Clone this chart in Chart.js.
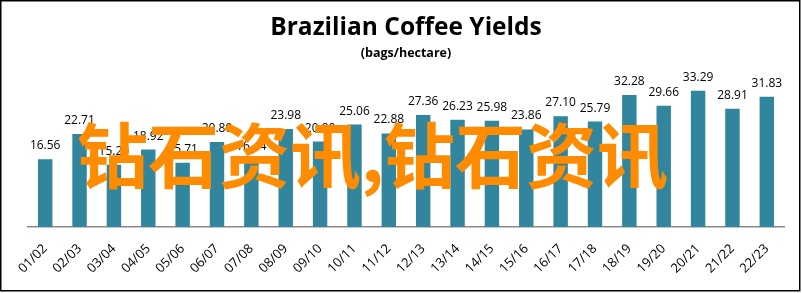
<!DOCTYPE html>
<html>
<head>
<meta charset="utf-8">
<script src="https://cdn.jsdelivr.net/npm/chart.js@4/dist/chart.umd.min.js"></script>
<style>
  html, body { margin: 0; padding: 0; background: #fff; }
  #wrap { width: 802px; height: 293px; }
</style>
</head>
<body>
<div id="wrap"><canvas id="chart" width="802" height="293"></canvas></div>
<script>
// ─── DATA ────────────────────────────────────────────────
const seasons = ['01/02', '02/03', '03/04', '04/05', '05/06', '06/07', '07/08', '08/09',
  '09/10', '10/11', '11/12', '12/13', '13/14', '14/15', '15/16', '16/17', '17/18',
  '18/19', '19/20', '20/21', '21/22', '22/23'];
const yields = [16.56, 22.71, 15.20, 18.92, 15.71, 20.80, 16.44, 23.98,
  20.90, 25.06, 22.88, 27.36, 26.23, 25.98, 23.86, 27.10, 25.79,
  32.28, 29.66, 33.29, 28.91, 31.83];
const titleText = 'Brazilian Coffee Yields';
const subtitleText = '(bags/hectare)';
const watermark = '钻石资讯,钻石资讯';

const BAR = '#31859C';
const LATIN = '"Open Sans", "Liberation Sans", sans-serif';

// ─── PLUGINS ─────────────────────────────────────────────
const valueLabels = {
  id: 'valueLabels',
  afterDatasetsDraw(chart) {
    const { ctx } = chart;
    const meta = chart.getDatasetMeta(0);
    ctx.save();
    ctx.font = '12px ' + LATIN;
    ctx.fillStyle = '#000';
    ctx.textAlign = 'center';
    ctx.textBaseline = 'alphabetic';
    meta.data.forEach((bar, i) => {
      ctx.fillText(yields[i].toFixed(2), bar.x, bar.y - 10);
    });
    ctx.restore();
  }
};

const overlay = {
  id: 'overlay',
  afterDraw(chart) {
    const { ctx } = chart;
    ctx.save();
    // watermark
    ctx.font = 'bold 71px "Noto Sans CJK SC", sans-serif';
    ctx.fillStyle = '#FF8C00';
    ctx.textAlign = 'left';
    ctx.textBaseline = 'middle';
    ctx.fillText(watermark, 77, 155);
    // frame
    ctx.strokeStyle = '#000';
    ctx.lineWidth = 1.5;
    ctx.strokeRect(0.75, 0.75, 799, 290);
    ctx.restore();
  }
};

// ─── CHART ───────────────────────────────────────────────
new Chart(document.getElementById('chart'), {
  type: 'bar',
  data: {
    labels: seasons,
    datasets: [{
      data: yields,
      backgroundColor: BAR,
      borderWidth: 0,
      barPercentage: 0.84,
      categoryPercentage: 0.5
    }]
  },
  options: {
    responsive: false,
    animation: false,
    layout: { padding: { left: 28, right: 18, top: 0, bottom: 0 } },
    plugins: {
      legend: { display: false },
      tooltip: { enabled: false },
      title: {
        display: true,
        text: titleText,
        color: '#000',
        font: { family: LATIN, size: 24.5, weight: 'bold' },
        padding: { top: 13, bottom: 4 }
      },
      subtitle: {
        display: true,
        text: subtitleText,
        color: '#000',
        font: { family: LATIN, size: 12.5, weight: 'bold' },
        padding: { top: 0, bottom: 2 }
      }
    },
    scales: {
      x: {
        grid: { display: false },
        border: { display: true, color: '#898989', width: 1.5 },
        ticks: {
          color: '#000',
          font: { family: LATIN, size: 13 },
          minRotation: 45,
          maxRotation: 45,
          padding: 6
        },
        afterFit(scale) { scale.height = 66; }
      },
      y: {
        display: false,
        min: 0,
        max: 40
      }
    }
  },
  plugins: [valueLabels, overlay]
});
</script>
</body>
</html>
